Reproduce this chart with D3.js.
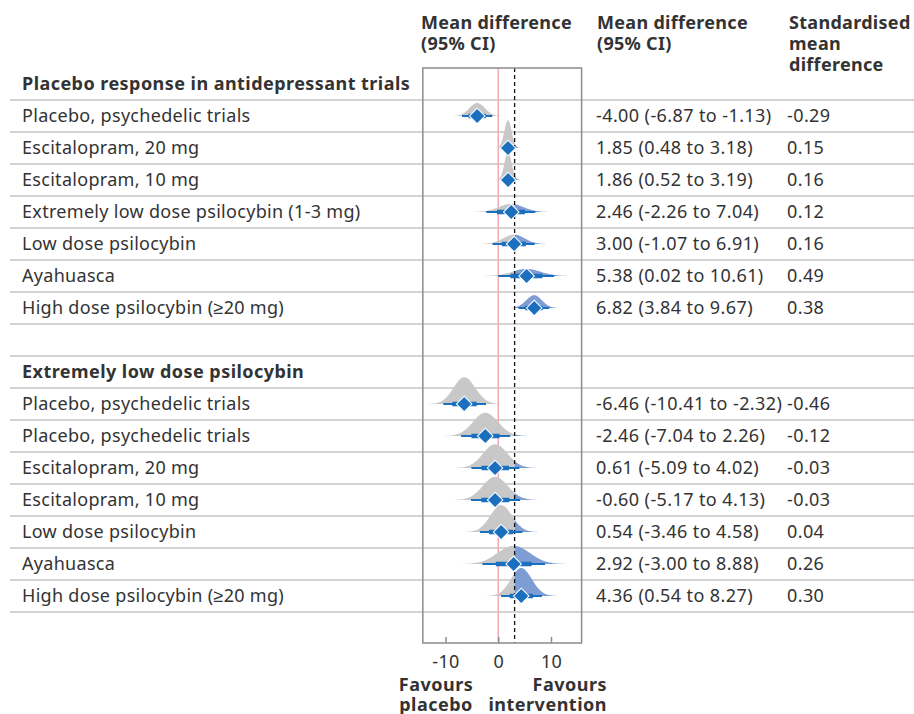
<!DOCTYPE html>
<html>
<head>
<meta charset="utf-8">
<script src="https://cdn.jsdelivr.net/npm/d3@7"></script>
<style>
  body { margin: 0; background: #fff; }
  svg text { font-family: "Noto Sans", sans-serif; fill: #333; font-size: 18px; letter-spacing: 0.3px; }
  .bold { font-weight: 700; }
  .title { letter-spacing: 0.45px; }
  .num { letter-spacing: 0.4px; }
</style>
</head>
<body>
<svg id="chart" width="914" height="714"></svg>
<script>
// section titles
var sectionTitles = ["Placebo response in antidepressant trials", "Extremely low dose psilocybin"]

// first block
var labelsA = ["Placebo, psychedelic trials", "Escitalopram, 20 mg", "Escitalopram, 10 mg",
  "Extremely low dose psilocybin (1-3 mg)", "Low dose psilocybin", "Ayahuasca", "High dose psilocybin (\u226520 mg)"]
var meanA = [-4.00, 1.85, 1.86, 2.46, 3.00, 5.38, 6.82]
var lowA  = [-6.87, 0.48, 0.52, -2.26, -1.07, 0.02, 3.84]
var highA = [-1.13, 3.18, 3.19, 7.04, 6.91, 10.61, 9.67]
var smdA  = [-0.29, 0.15, 0.16, 0.12, 0.16, 0.49, 0.38]

// second block
var labelsB = ["Placebo, psychedelic trials", "Placebo, psychedelic trials", "Escitalopram, 20 mg",
  "Escitalopram, 10 mg", "Low dose psilocybin", "Ayahuasca", "High dose psilocybin (\u226520 mg)"]
var meanB = [-6.46, -2.46, -0.61, -0.60, 0.54, 2.92, 4.36]
var lowB  = [-10.41, -7.04, -5.09, -5.17, -3.46, -3.00, 0.54]
var highB = [-2.32, 2.26, 4.02, 4.13, 4.58, 8.88, 8.27]
var smdB  = [-0.46, -0.12, -0.03, -0.03, 0.04, 0.26, 0.30]
// printed text for second block, first estimate printed as in source
var printedMeanB = [-6.46, -2.46, 0.61, -0.60, 0.54, 2.92, 4.36]

// axis
var xTicks = [-10, 0, 10]
var xMin = -14.3, xMax = 15.8
var refLine = 3.1   // dashed line

var svg = d3.select("#chart")

var x = d3.scaleLinear().domain([-10, 10]).range([445.5, 551])
var y = d3.scaleLinear().domain([0, 16]).range([84, 596])
var rowH = 32
var boxTop = 68, boxBottom = 643
var boxL = x(xMin), boxR = x(xMax)

var fmt = function (v) { return v.toFixed(2) }

// build rows list
var rows = []
rows.push({ type: "title", text: sectionTitles[0], i: 0 })
labelsA.forEach(function (l, k) {
  rows.push({ type: "est", sec: 0, text: l, m: meanA[k], lo: lowA[k], hi: highA[k], smd: smdA[k], pm: meanA[k], i: 1 + k })
})
rows.push({ type: "blank", i: 8 })
rows.push({ type: "title", text: sectionTitles[1], i: 9 })
labelsB.forEach(function (l, k) {
  rows.push({ type: "est", sec: 1, text: l, m: meanB[k], lo: lowB[k], hi: highB[k], smd: smdB[k], pm: printedMeanB[k], i: 10 + k })
})
var est = rows.filter(function (r) { return r.type == "est" })

// column headers
var headers = [
  { x: 421, lines: ["Mean difference", "(95% CI)"] },
  { x: 597, lines: ["Mean difference", "(95% CI)"] },
  { x: 789, lines: ["Standardised", "mean", "difference"] }
]
headers.forEach(function (h) {
  h.lines.forEach(function (t, j) {
    svg.append("text").attr("class", "bold")
      .attr("x", h.x).attr("y", 29 + j * 21)
      .text(t)
  })
})

// row separators
svg.selectAll("line.sep")
  .data(d3.range(17))
  .enter().append("line")
  .attr("class", "sep")
  .attr("x1", 10).attr("x2", 914)
  .attr("y1", function (i) { return y(i) + rowH / 2 })
  .attr("y2", function (i) { return y(i) + rowH / 2 })
  .attr("stroke", "#c4c4c4").attr("stroke-width", 1.5)

// labels
svg.selectAll("text.lab")
  .data(rows.filter(function (r) { return r.type != "blank" }))
  .enter().append("text")
  .attr("class", function (r) { return r.type == "title" ? "lab bold title" : "lab" })
  .attr("x", 22)
  .attr("y", function (r) { return y(r.i) + 6 })
  .text(function (r) { return r.text })

svg.selectAll("text.ci")
  .data(est).enter().append("text")
  .attr("class", "ci num")
  .attr("x", 596).attr("y", function (r) { return y(r.i) + 6 })
  .text(function (r) { return fmt(r.pm) + " (" + fmt(r.lo) + " to " + fmt(r.hi) + ")" })

svg.selectAll("text.smd")
  .data(est).enter().append("text")
  .attr("class", "smd num")
  .attr("x", 787).attr("y", function (r) { return y(r.i) + 6 })
  .text(function (r) { return fmt(r.smd) })

// clip paths for left / right of reference line
var defs = svg.append("defs")
defs.append("clipPath").attr("id", "clipL").append("rect")
  .attr("x", boxL).attr("y", 0).attr("width", x(refLine) - boxL).attr("height", 714)
defs.append("clipPath").attr("id", "clipR").append("rect")
  .attr("x", x(refLine)).attr("y", 0).attr("width", boxR - x(refLine)).attr("height", 714)

// zero line behind the densities
svg.append("line")
  .attr("x1", x(0)).attr("x2", x(0)).attr("y1", boxTop).attr("y2", boxBottom)
  .attr("stroke", "#f5a9b0").attr("stroke-width", 1.5)

// split normal density from the estimate and its CI
function density(r) {
  var sl = (r.m - r.lo) / 1.96, sh = (r.hi - r.m) / 1.96
  var norm = 2 / (Math.sqrt(2 * Math.PI) * (sl + sh))
  var pts = []
  var a = r.m - 4 * sl, b = r.m + 4 * sh
  for (var k = 0; k <= 120; k++) {
    var v = a + (b - a) * k / 120
    var s = v < r.m ? sl : sh
    pts.push([v, norm * Math.exp(-0.5 * Math.pow((v - r.m) / s, 2))])
  }
  return pts
}
est.forEach(function (r) { r.pts = density(r) })

var maxPeak = 28
;[0, 1].forEach(function (sec) {
  var rs = est.filter(function (r) { return r.sec == sec })
  var top = d3.max(rs, function (r) { return d3.max(r.pts, function (p) { return p[1] }) })
  var h = d3.scaleLinear().domain([0, top]).range([0, maxPeak])
  rs.forEach(function (r) {
    var area = d3.area()
      .x(function (p) { return x(p[0]) })
      .y0(y(r.i))
      .y1(function (p) { return y(r.i) - h(p[1]) })
      .curve(d3.curveBasis)
    svg.append("path").attr("d", area(r.pts)).attr("fill", "#c8c8c8").attr("clip-path", "url(#clipL)")
    svg.append("path").attr("d", area(r.pts)).attr("fill", "#7e9dd4").attr("clip-path", "url(#clipR)")
  })
})

// dashed reference line
svg.append("line")
  .attr("x1", x(refLine)).attr("x2", x(refLine)).attr("y1", boxTop).attr("y2", boxBottom)
  .attr("stroke", "#111").attr("stroke-width", 1.3).attr("stroke-dasharray", "4,3")

// CI lines
var blue = "#1a6fbe"
var g = svg.selectAll("g.est").data(est).enter().append("g").attr("class", "est")
g.append("line")
  .attr("x1", function (r) { return x(r.lo) }).attr("x2", function (r) { return x(r.hi) })
  .attr("y1", function (r) { return y(r.i) }).attr("y2", function (r) { return y(r.i) })
  .attr("stroke", blue).attr("stroke-width", 2)
g.append("line")
  .attr("x1", function (r) { return x(r.m - 1.12 * (r.m - r.lo) / 1.96) })
  .attr("x2", function (r) { return x(r.m + 1.12 * (r.hi - r.m) / 1.96) })
  .attr("y1", function (r) { return y(r.i) }).attr("y2", function (r) { return y(r.i) })
  .attr("stroke", blue).attr("stroke-width", 4.5)
g.append("path")
  .attr("d", d3.symbol(d3.symbolSquare, 120))
  .attr("transform", function (r) { return "translate(" + x(r.m) + "," + y(r.i) + ") rotate(45)" })
  .attr("fill", blue).attr("stroke", "#fff").attr("stroke-width", 1)

// plot box
svg.append("rect")
  .attr("x", boxL).attr("y", boxTop).attr("width", boxR - boxL).attr("height", boxBottom - boxTop)
  .attr("fill", "none").attr("stroke", "#8c8c8c").attr("stroke-width", 1.5)

// x axis
var axis = svg.append("g").attr("transform", "translate(0," + boxBottom + ")")
  .call(d3.axisBottom(x).tickValues(xTicks).tickSize(-6).tickPadding(12).tickFormat(d3.format("d")))
axis.select(".domain").remove()
axis.selectAll(".tick line").attr("stroke", "#8c8c8c").attr("stroke-width", 1.5)
axis.selectAll(".tick text")
  .style("font-family", "Noto Sans, sans-serif").style("font-size", "18px").attr("fill", "#333")
  .text(function (d) { return d < 0 ? "-" + Math.abs(d) : d })

// favours labels
var fav = [
  { x: 436, anchor: "middle", lines: ["Favours", "placebo"] },
  { x: 607, anchor: "end", lines: ["Favours", "intervention"] }
]
fav.forEach(function (f) {
  f.lines.forEach(function (t, j) {
    svg.append("text").attr("class", "bold")
      .attr("x", f.x).attr("y", 691 + j * 20)
      .attr("text-anchor", f.anchor)
      .style("letter-spacing", "0.5px")
      .text(t)
  })
})
</script>
</body>
</html>
